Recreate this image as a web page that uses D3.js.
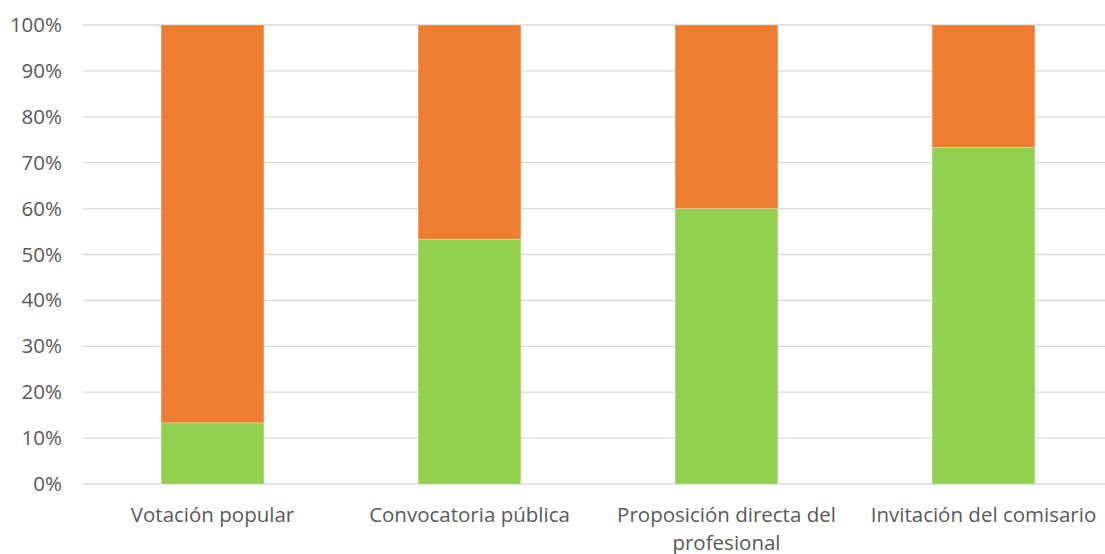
<!DOCTYPE html>
<html>
<head>
<meta charset="utf-8">
<script src="https://cdn.jsdelivr.net/npm/d3@7"></script>
<style>
  html, body { margin: 0; padding: 0; background: #fff; }
  svg { display: block; }
  text { font-family: "Open Sans", "Noto Sans", sans-serif; fill: #595959; }
</style>
</head>
<body>
<svg id="chart" width="1105" height="554"></svg>
<script>
// Categories and shares (fractions of 1) for each stacked series
const categories = ["Votación popular", "Convocatoria pública", "Proposición directa del profesional", "Invitación del comisario"];
const categoryLines = [["Votación popular"], ["Convocatoria pública"], ["Proposición directa del", "profesional"], ["Invitación del comisario"]];
const seriesGreen = [0.1333, 0.5333, 0.60, 0.7333];
const seriesOrange = [0.8667, 0.4667, 0.40, 0.2667];
const yTicks = [0, 0.1, 0.2, 0.3, 0.4, 0.5, 0.6, 0.7, 0.8, 0.9, 1.0];

const colors = { green: "#92D050", orange: "#ED7D31" };

const svg = d3.select("#chart");
const plotLeft = 84, plotRight = 1112, plotTop = 25, plotBottom = 484;
const fontSize = 20.5;

const x = d3.scaleBand().domain(categories).range([plotLeft, plotRight]).paddingInner(0.6).paddingOuter(0.3);
const y = d3.scaleLinear().domain([0, 1]).range([plotBottom, plotTop]);

// Gridlines
svg.append("g").selectAll("line").data(yTicks).join("line")
  .attr("x1", 83).attr("x2", 1105)
  .attr("y1", d => y(d)).attr("y2", d => y(d))
  .attr("stroke", "#d9d9d9").attr("stroke-width", 1.3);

// Y axis labels
const yAxis = d3.axisLeft(y).tickValues(yTicks).tickFormat(d3.format(".0%")).tickSize(0).tickPadding(0);
const gy = svg.append("g").attr("transform", "translate(62,0)").call(yAxis);
gy.select(".domain").remove();
gy.selectAll("text").attr("font-size", fontSize).attr("fill", "#595959")
  .style("font-family", '"Open Sans", "Noto Sans", sans-serif');

// Stacked bars
const rows = categories.map((c, i) => ({ cat: c, green: seriesGreen[i], orange: seriesOrange[i] }));
const stack = d3.stack().keys(["green", "orange"])(rows);
svg.append("g").selectAll("g").data(stack).join("g")
  .attr("fill", s => colors[s.key])
  .selectAll("rect").data(s => s).join("rect")
  .attr("x", d => x(d.data.cat))
  .attr("width", x.bandwidth())
  .attr("y", d => y(d[1]))
  .attr("height", d => y(d[0]) - y(d[1]))
  .attr("stroke", "rgba(255,255,255,0.35)").attr("stroke-width", 0.8);

// Category labels
const gx = svg.append("g");
categories.forEach((c, i) => {
  const cx = x(c) + x.bandwidth() / 2;
  const t = gx.append("text")
    .attr("x", cx)
    .attr("y", 522)
    .attr("text-anchor", "middle")
    .attr("font-size", fontSize);
  categoryLines[i].forEach((ln, j) => {
    t.append("tspan").attr("x", cx).attr("dy", j === 0 ? 0 : 28).text(ln);
  });
});
</script>
</body>
</html>
